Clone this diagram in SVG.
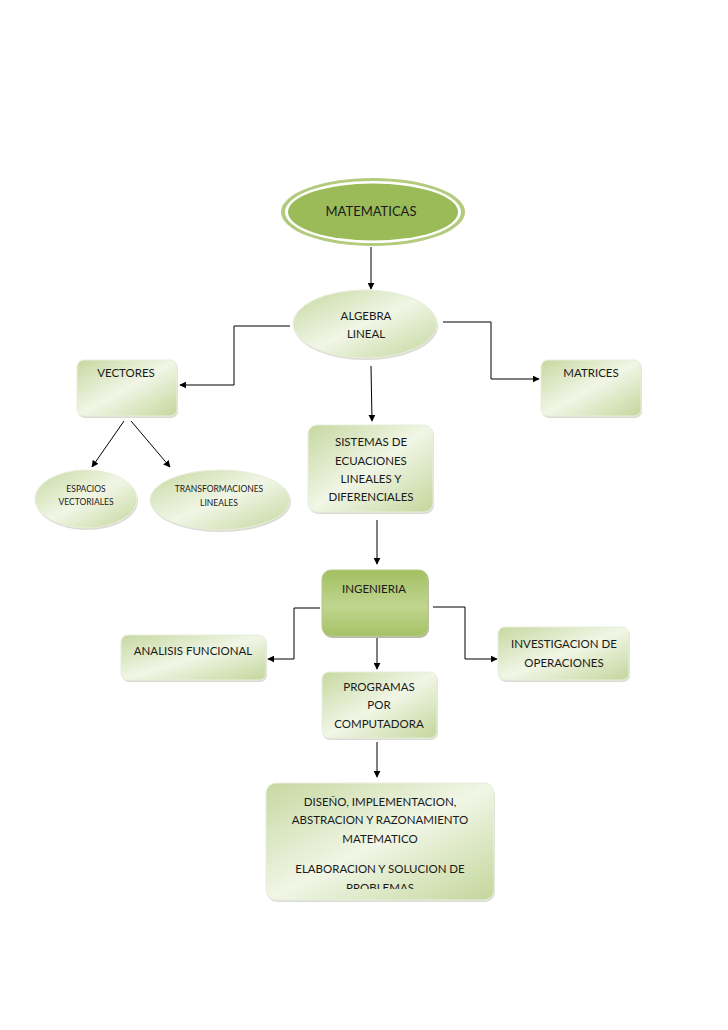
<svg xmlns="http://www.w3.org/2000/svg" width="728" height="1030" viewBox="0 0 728 1030">
<defs>
<linearGradient id="lg" x1="0" y1="0" x2="1" y2="1">
<stop offset="0" stop-color="#c6d8a0"/>
<stop offset="0.5" stop-color="#f1f6e6"/>
<stop offset="1" stop-color="#c3d69b"/>
</linearGradient>
<linearGradient id="dg" x1="0" y1="0" x2="0" y2="1">
<stop offset="0" stop-color="#a2c062"/>
<stop offset="0.55" stop-color="#c0d58f"/>
<stop offset="1" stop-color="#a5c266"/>
</linearGradient>
<marker id="ah" viewBox="0 0 10 10" refX="9" refY="5" markerWidth="7" markerHeight="7" orient="auto" markerUnits="userSpaceOnUse">
<path d="M0,0 L10,5 L0,10 z" fill="#000"/>
</marker>
<clipPath id="cp"><rect x="266" y="783" width="228" height="106" rx="10"/></clipPath>
</defs>
<style>
text{font-family:Lato,"Liberation Sans",sans-serif;fill:#1a1a1a;text-anchor:middle}
.t{font-size:11.5px}
.s{font-size:8.5px}
.box{fill:url(#lg);stroke:#e8eedb;stroke-width:1}
.sh{fill:#d3d3cc;opacity:0.8}
.c{fill:none;stroke:#000;stroke-width:1;marker-end:url(#ah)}
</style>
<rect width="728" height="1030" fill="#fff"/>
<g id="connectors">
<path class="c" d="M371,247 V289"/>
<path class="c" d="M290,326 H234 V385 H180"/>
<path class="c" d="M443,322 H491 V379 H539"/>
<path class="c" d="M371,366 L372,421"/>
<path class="c" d="M124,421 L92,467"/>
<path class="c" d="M131,421 L170,467"/>
<path class="c" d="M377,520 V564"/>
<path class="c" d="M320,608 H294 V659 H268"/>
<path class="c" d="M433,607 H465 V659 H497"/>
<path class="c" d="M377,638 V669"/>
<path class="c" d="M377,742 V777"/>
</g>
<g id="matematicas">
<ellipse cx="373" cy="212" rx="92" ry="34" fill="#b2cb7d"/>
<ellipse cx="373" cy="212" rx="88" ry="31" fill="#fff"/>
<ellipse cx="373" cy="212" rx="85" ry="28.5" fill="#9bbb59"/>
<text x="371" y="216" style="font-size:13px">MATEMATICAS</text>
</g>
<g id="algebra">
<ellipse cx="366" cy="326" rx="72" ry="34" class="sh"/>
<ellipse cx="365" cy="324" rx="72" ry="34" class="box"/>
<text x="366" y="320" class="t">ALGEBRA</text>
<text x="366" y="338" class="t">LINEAL</text>
</g>
<g id="vectores">
<rect x="78" y="362" width="100" height="56" rx="7" class="sh"/>
<rect x="77" y="360" width="100" height="56" rx="7" class="box"/>
<text x="126" y="377" class="t">VECTORES</text>
</g>
<g id="matrices">
<rect x="542" y="362" width="100" height="56" rx="7" class="sh"/>
<rect x="541" y="360" width="100" height="56" rx="7" class="box"/>
<text x="591" y="377" class="t">MATRICES</text>
</g>
<g id="sistemas">
<rect x="309" y="427" width="125" height="87" rx="9" class="sh"/>
<rect x="308" y="425" width="125" height="87" rx="9" class="box"/>
<text x="371" y="446" class="t">SISTEMAS DE</text>
<text x="371" y="465" class="t">ECUACIONES</text>
<text x="371" y="483" class="t">LINEALES Y</text>
<text x="371" y="501" class="t">DIFERENCIALES</text>
</g>
<g id="espacios">
<ellipse cx="87" cy="501" rx="51" ry="29" class="sh"/>
<ellipse cx="86" cy="499" rx="51" ry="29" class="box"/>
<text x="86" y="492" class="s">ESPACIOS</text>
<text x="86" y="505" class="s">VECTORIALES</text>
</g>
<g id="transformaciones">
<ellipse cx="221" cy="502" rx="70" ry="30" class="sh"/>
<ellipse cx="220" cy="500" rx="70" ry="30" class="box"/>
<text x="219" y="492" class="s">TRANSFORMACIONES</text>
<text x="219" y="506" class="s">LINEALES</text>
</g>
<g id="ingenieria">
<rect x="323" y="572" width="106" height="66" rx="9" fill="#8a8a7a" opacity="0.6"/>
<rect x="322" y="570" width="106" height="66" rx="9" fill="url(#dg)" stroke="#b5cb85"/>
<text x="374" y="593" class="t">INGENIERIA</text>
</g>
<g id="analisis">
<rect x="122" y="637" width="145" height="45" rx="7" class="sh"/>
<rect x="121" y="635" width="145" height="45" rx="7" class="box"/>
<text x="193" y="655" class="t">ANALISIS FUNCIONAL</text>
</g>
<g id="investigacion">
<rect x="499" y="629" width="131" height="53" rx="7" class="sh"/>
<rect x="498" y="627" width="131" height="53" rx="7" class="box"/>
<text x="564" y="648" class="t">INVESTIGACION DE</text>
<text x="564" y="667" class="t">OPERACIONES</text>
</g>
<g id="programas">
<rect x="323" y="674" width="115" height="66" rx="7" class="sh"/>
<rect x="322" y="672" width="115" height="66" rx="7" class="box"/>
<text x="379" y="691" class="t">PROGRAMAS</text>
<text x="379" y="709" class="t">POR</text>
<text x="379" y="728" class="t">COMPUTADORA</text>
</g>
<g id="diseno">
<rect x="267" y="785" width="228" height="117" rx="10" class="sh"/>
<rect x="266" y="783" width="228" height="117" rx="10" class="box"/>
<g clip-path="url(#cp)">
<text x="380" y="806" class="t">DISEÑO, IMPLEMENTACION,</text>
<text x="380" y="824" class="t">ABSTRACION Y RAZONAMIENTO</text>
<text x="380" y="843" class="t">MATEMATICO</text>
<text x="380" y="873" class="t">ELABORACION Y SOLUCION DE</text>
<text x="380" y="892" class="t">PROBLEMAS</text>
</g>
</g>
</svg>
